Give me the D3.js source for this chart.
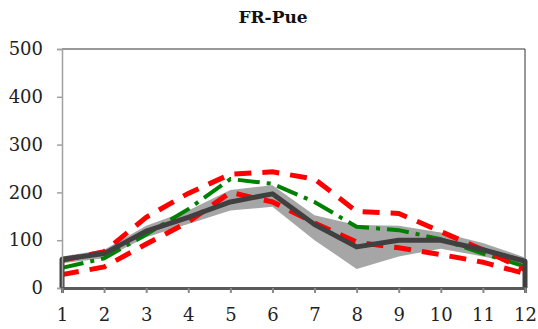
<!DOCTYPE html>
<html>
<head>
<meta charset="utf-8">
<script src="https://cdn.jsdelivr.net/npm/d3@7"></script>
<style>
  body { margin: 0; background: #fff; }
  svg { display: block; }
</style>
</head>
<body>
<div id="chart"></div>
<script>
const months = [1, 2, 3, 4, 5, 6, 7, 8, 9, 10, 11, 12];
const yTicks = [0, 100, 200, 300, 400, 500];
const bandLow  = [52, 62, 106, 134, 162, 170, 100, 40, 66, 82, 66, 48];
const bandHigh = [66, 80, 130, 162, 205, 215, 152, 132, 130, 116, 94, 64];
const obsMean  = [60, 72, 119, 148, 180, 197, 133, 86, 100, 100, 80, 56];
const simGreen = [42, 62, 112, 165, 228, 218, 180, 128, 121, 102, 72, 45];
const redUpper = [58, 76, 148, 198, 238, 243, 228, 160, 156, 118, 80, 38];
const redLower = [28, 44, 92, 138, 200, 180, 136, 96, 84, 70, 54, 30];

const width = 538, height = 329;
const padLeft = 62, padRight = 525, padTop = 49, padBottom = 288;
const font = "DejaVu Serif, Liberation Serif, serif";

const svg = d3.select("#chart").append("svg")
  .attr("width", width)
  .attr("height", height);

const x = d3.scaleLinear().domain([1, 12]).range([padLeft, padRight]);
const y = d3.scaleLinear().domain([0, 500]).range([padBottom, padTop]);

// title
svg.append("text")
  .attr("x", 273).attr("y", 23)
  .attr("text-anchor", "middle")
  .style("font-family", font)
  .style("font-weight", "bold")
  .style("font-size", "17px")
  .attr("fill", "#111")
  .text("FR-Pue");

// frame top/right
svg.append("path")
  .attr("d", `M${padLeft},${padTop}H${padRight}V${padBottom}`)
  .attr("fill", "none")
  .attr("stroke", "#333")
  .attr("stroke-width", 1);

// gray band
const area = d3.area()
  .x((d, i) => x(months[i]))
  .y0((d, i) => y(bandLow[i]))
  .y1((d, i) => y(bandHigh[i]));
svg.append("path")
  .datum(bandLow)
  .attr("d", area)
  .attr("fill", "#a6a6a6");

const line = d3.line().x(d => x(d[0])).y(d => y(d[1]));

// green dash-dot
svg.append("path")
  .attr("d", line(months.map((m, i) => [m, simGreen[i]])))
  .attr("fill", "none")
  .attr("stroke", "#008000")
  .attr("stroke-width", 4)
  .attr("stroke-dasharray", "22,7,4,7");

// red dashed
[redUpper, redLower].forEach(s => {
  svg.append("path")
    .attr("d", line(months.map((m, i) => [m, s[i]])))
    .attr("fill", "none")
    .attr("stroke", "#ff0000")
    .attr("stroke-width", 5)
    .attr("stroke-dasharray", "17,11");
});

// dark observed line, dropping to zero at both ends
const darkPts = [[1, 0]].concat(months.map((m, i) => [m, obsMean[i]]), [[12, 0]]);
svg.append("path")
  .attr("d", line(darkPts))
  .attr("fill", "none")
  .attr("stroke", "#404040")
  .attr("stroke-width", 5)
  .attr("stroke-linejoin", "round");

// y axis
const yAxis = svg.append("g")
  .attr("transform", `translate(${padLeft},0)`)
  .call(d3.axisLeft(y).tickValues(yTicks).tickSize(5).tickPadding(14));
yAxis.select(".domain").attr("stroke", "#a0a0a0").attr("stroke-width", 1.5);
yAxis.selectAll(".tick line").attr("stroke", "#a0a0a0").attr("stroke-width", 1.5);
yAxis.selectAll("text")
  .style("font-family", font)
  .style("font-size", "18px")
  .attr("fill", "#222");

// x axis
const xAxis = svg.append("g")
  .attr("transform", `translate(0,${padBottom})`)
  .call(d3.axisBottom(x).tickValues(months).tickFormat(d3.format("d")).tickSize(5).tickPadding(15));
xAxis.select(".domain").attr("stroke", "#5a5a5a").attr("stroke-width", 3);
xAxis.selectAll(".tick line").attr("stroke", "#8a8a8a").attr("stroke-width", 2);
xAxis.selectAll("text")
  .style("font-family", font)
  .style("font-size", "18px")
  .attr("fill", "#222");
</script>
</body>
</html>
